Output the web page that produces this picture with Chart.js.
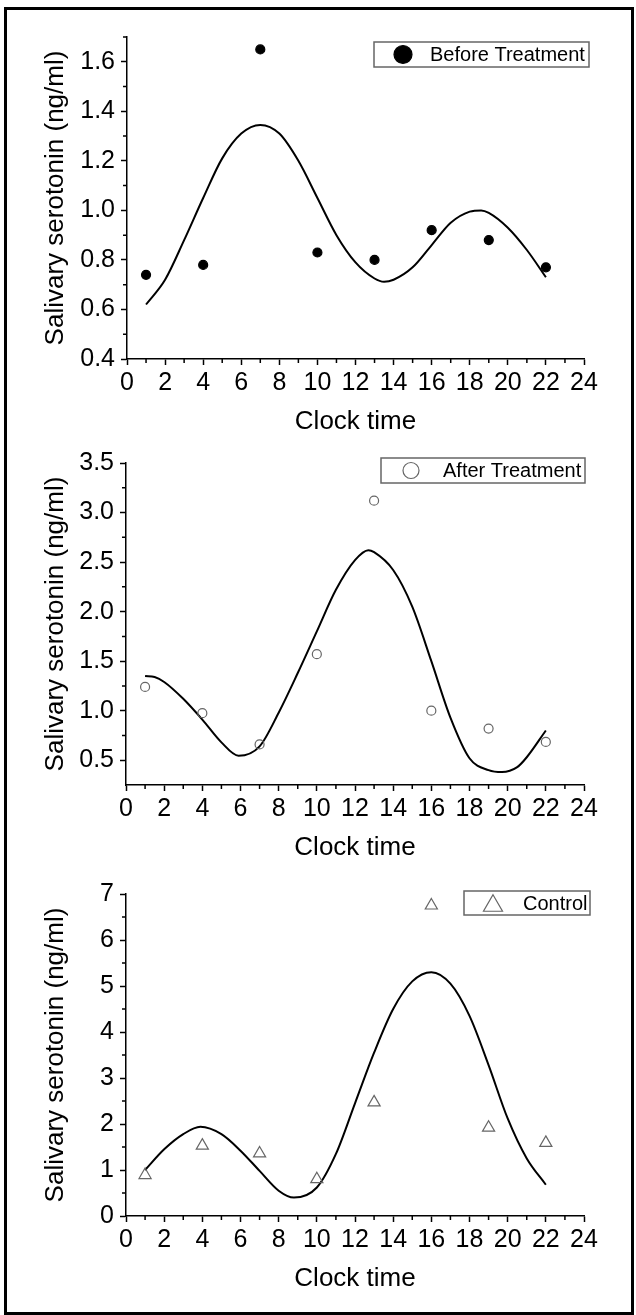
<!DOCTYPE html>
<html>
<head>
<meta charset="utf-8">
<script src="https://cdn.jsdelivr.net/npm/chart.js@4.4.0/dist/chart.umd.min.js"></script>
<style>
  html, body { margin: 0; padding: 0; background: #fff; }
  #frame { position: absolute; left: 4px; top: 7px; width: 630px; height: 1308px;
           box-sizing: border-box; border: 3px solid #000; }
  canvas { position: absolute; left: 0; }
</style>
</head>
<body>
<div id="frame"></div>
<canvas id="ch-before" width="636" height="445" style="top:0px"></canvas>
<canvas id="ch-after" width="636" height="445" style="top:426px"></canvas>
<canvas id="ch-control" width="636" height="445" style="top:857px"></canvas>

<script>
/* ── Data ── */
const hours       = [1, 4, 7, 10, 13, 16, 19, 22];
const beforeVals  = [0.74, 0.78, 1.65, 0.83, 0.80, 0.92, 0.88, 0.77];
const afterVals   = [1.24, 0.975, 0.66, 1.57, 3.12, 1.00, 0.82, 0.685];
const controlVals = [0.89, 1.53, 1.36, 0.80, 2.47, 6.75, 1.92, 1.59];

// fitted curves
const beforeFitX  = [1, 2, 3, 4, 5, 6, 7, 8, 9, 10, 11, 12, 13, 13.5, 14, 15, 16, 17, 18, 18.6, 19, 20, 21, 22];
const beforeFitY  = [0.62, 0.72, 0.88, 1.05, 1.21, 1.31, 1.345, 1.31, 1.20, 1.05, 0.90, 0.79, 0.725, 0.712, 0.72, 0.77, 0.86, 0.95, 0.995, 1.0, 0.99, 0.93, 0.84, 0.73];
const afterFitX   = [1, 1.5, 2, 3, 4, 5, 5.9, 7, 8, 9, 10, 11, 12, 12.7, 13, 14, 15, 16, 17, 18, 19, 19.7, 20.5, 21, 22];
const afterFitY   = [1.35, 1.34, 1.29, 1.12, 0.91, 0.68, 0.545, 0.64, 0.98, 1.38, 1.80, 2.22, 2.52, 2.62, 2.60, 2.42, 2.05, 1.50, 0.93, 0.52, 0.40, 0.38, 0.43, 0.53, 0.80];
const controlFitX = [1, 2, 3, 3.9, 5, 6, 7, 8, 8.8, 10, 11, 12, 13, 14, 15, 16, 17, 18, 19, 20, 21, 22];
const controlFitY = [1.0, 1.45, 1.78, 1.94, 1.78, 1.42, 0.98, 0.55, 0.40, 0.62, 1.35, 2.45, 3.55, 4.50, 5.10, 5.30, 5.05, 4.35, 3.28, 2.12, 1.25, 0.68];

// axis ticks
const xTicks       = [0, 2, 4, 6, 8, 10, 12, 14, 16, 18, 20, 22, 24];
const xMinor       = [1, 3, 5, 7, 9, 11, 13, 15, 17, 19, 21, 23];
const beforeTicks  = [0.4, 0.6, 0.8, 1.0, 1.2, 1.4, 1.6];
const beforeMinor  = [0.5, 0.7, 0.9, 1.1, 1.3, 1.5, 1.7];
const afterTicks   = [0.5, 1.0, 1.5, 2.0, 2.5, 3.0, 3.5];
const afterMinor   = [0.75, 1.25, 1.75, 2.25, 2.75, 3.25];
const controlTicks = [0, 1, 2, 3, 4, 5, 6, 7];
const controlMinor = [0.5, 1.5, 2.5, 3.5, 4.5, 5.5, 6.5];

const FONT = "'Liberation Sans', Arial, sans-serif";
Chart.defaults.color = '#000';
Chart.defaults.font.family = FONT;

const pts = (xs, ys) => xs.map((x, i) => ({ x, y: ys[i] }));

/* ── minor ticks + in-plot legend ── */
const decor = {
  id: 'decor',
  afterDraw(chart, args, o) {
    const { ctx, chartArea: a, scales: { x, y } } = chart;
    ctx.save();
    ctx.strokeStyle = '#000';
    ctx.lineWidth = 1.5;
    ctx.beginPath();
    o.xMinor.forEach(v => {
      const px = x.getPixelForValue(v);
      ctx.moveTo(px, a.bottom); ctx.lineTo(px, a.bottom + 4);
    });
    o.yMinor.forEach(v => {
      const py = y.getPixelForValue(v);
      ctx.moveTo(a.left - 4, py); ctx.lineTo(a.left, py);
    });
    ctx.stroke();

    // legend box
    const [x1, y1, x2, y2] = o.box;
    ctx.strokeStyle = '#666';
    ctx.lineWidth = 1.5;
    ctx.strokeRect(x1, y1, x2 - x1, y2 - y1);
    const ds = chart.data.datasets[0];
    const cy = (y1 + y2) / 2;
    ctx.fillStyle = ds.pointBackgroundColor;
    ctx.strokeStyle = ds.pointBorderColor;
    ctx.lineWidth = 1.2;
    Chart.helpers.drawPoint(ctx, { pointStyle: ds.pointStyle, radius: o.markerR, rotation: 0, borderWidth: 1.2 }, o.markerX, cy + (ds.pointStyle === 'triangle' ? o.markerR / 4 : 0));
    ctx.fillStyle = '#000';
    ctx.font = '20px ' + FONT;
    ctx.textBaseline = 'middle';
    ctx.textAlign = 'left';
    ctx.fillText(ds.label, o.textX, cy + 1);
    ctx.restore();
  }
};

function mkPanel(id, cfg) {
  const ticksFrom = arr => scale => { scale.ticks = arr.map(v => ({ value: v })); };
  new Chart(document.getElementById(id), {
    type: 'scatter',
    data: {
      datasets: [
        {
          label: cfg.label,
          data: pts(hours, cfg.vals),
          pointStyle: cfg.style,
          pointRadius: cfg.radius,
          pointBackgroundColor: cfg.fill,
          pointBorderColor: cfg.stroke,
          pointBorderWidth: 1.2,
          showLine: false
        },
        {
          label: 'fit',
          data: pts(cfg.fitX, cfg.fitY),
          showLine: true,
          borderColor: '#000',
          borderWidth: 2,
          cubicInterpolationMode: 'monotone',
          pointRadius: 0
        }
      ]
    },
    options: {
      responsive: false,
      animation: false,
      devicePixelRatio: 1,
      layout: { padding: { left: 0, top: 37, right: 52, bottom: 0 } },
      plugins: {
        legend: { display: false },
        tooltip: { enabled: false },
        decor: { xMinor, yMinor: cfg.minor, box: cfg.box, markerX: cfg.markerX, markerR: cfg.markerR, textX: cfg.textX }
      },
      scales: {
        x: {
          type: 'linear', position: 'bottom', min: 0, max: 24,
          afterBuildTicks: ticksFrom(xTicks),
          afterFit: s => { s.height = 86; },
          grid: { drawOnChartArea: false, drawTicks: true, tickLength: 6, tickColor: '#000', tickWidth: 1.5 },
          border: { display: true, color: '#000', width: 1.5 },
          ticks: { padding: 3, maxRotation: 0, autoSkip: false, font: { size: 25 }, callback: v => String(v) },
          title: { display: true, text: 'Clock time', font: { size: 26 }, padding: { top: 0, bottom: 8 } }
        },
        y: {
          type: 'linear', position: 'left', min: cfg.min, max: cfg.max,
          afterBuildTicks: ticksFrom(cfg.ticks),
          afterFit: s => { s.width = cfg.left; },
          grid: { drawOnChartArea: false, drawTicks: true, tickLength: 6, tickColor: '#000', tickWidth: 1.5 },
          border: { display: true, color: '#000', width: 1.5 },
          ticks: { padding: 6, autoSkip: false, font: { size: 25 }, callback: v => v.toFixed(cfg.dec) },
          title: { display: true, text: 'Salivary serotonin (ng/ml)', font: { size: 26 }, padding: { top: 40, bottom: 0 } }
        }
      }
    },
    plugins: [decor]
  });
}

mkPanel('ch-before', {
  label: 'Before Treatment', vals: beforeVals, fitX: beforeFitX, fitY: beforeFitY,
  style: 'circle', radius: 4.5, fill: '#000', stroke: '#000',
  min: 0.4, max: 1.7, ticks: beforeTicks, minor: beforeMinor, dec: 1, left: 127,
  box: [374, 42, 589, 67], markerX: 403, markerR: 9, textX: 430
});

mkPanel('ch-after', {
  label: 'After Treatment', vals: afterVals, fitX: afterFitX, fitY: afterFitY,
  style: 'circle', radius: 4.5, fill: 'rgba(0,0,0,0)', stroke: '#666',
  min: 0.25, max: 3.5, ticks: afterTicks, minor: afterMinor, dec: 1, left: 126,
  box: [381, 32, 585, 57], markerX: 411, markerR: 8, textX: 443
});

mkPanel('ch-control', {
  label: 'Control', vals: controlVals, fitX: controlFitX, fitY: controlFitY,
  style: 'triangle', radius: 7, fill: 'rgba(0,0,0,0)', stroke: '#666',
  min: 0, max: 7, ticks: controlTicks, minor: controlMinor, dec: 0, left: 126,
  box: [464, 34, 590, 58], markerX: 493, markerR: 11, textX: 523
});
</script>
</body>
</html>
